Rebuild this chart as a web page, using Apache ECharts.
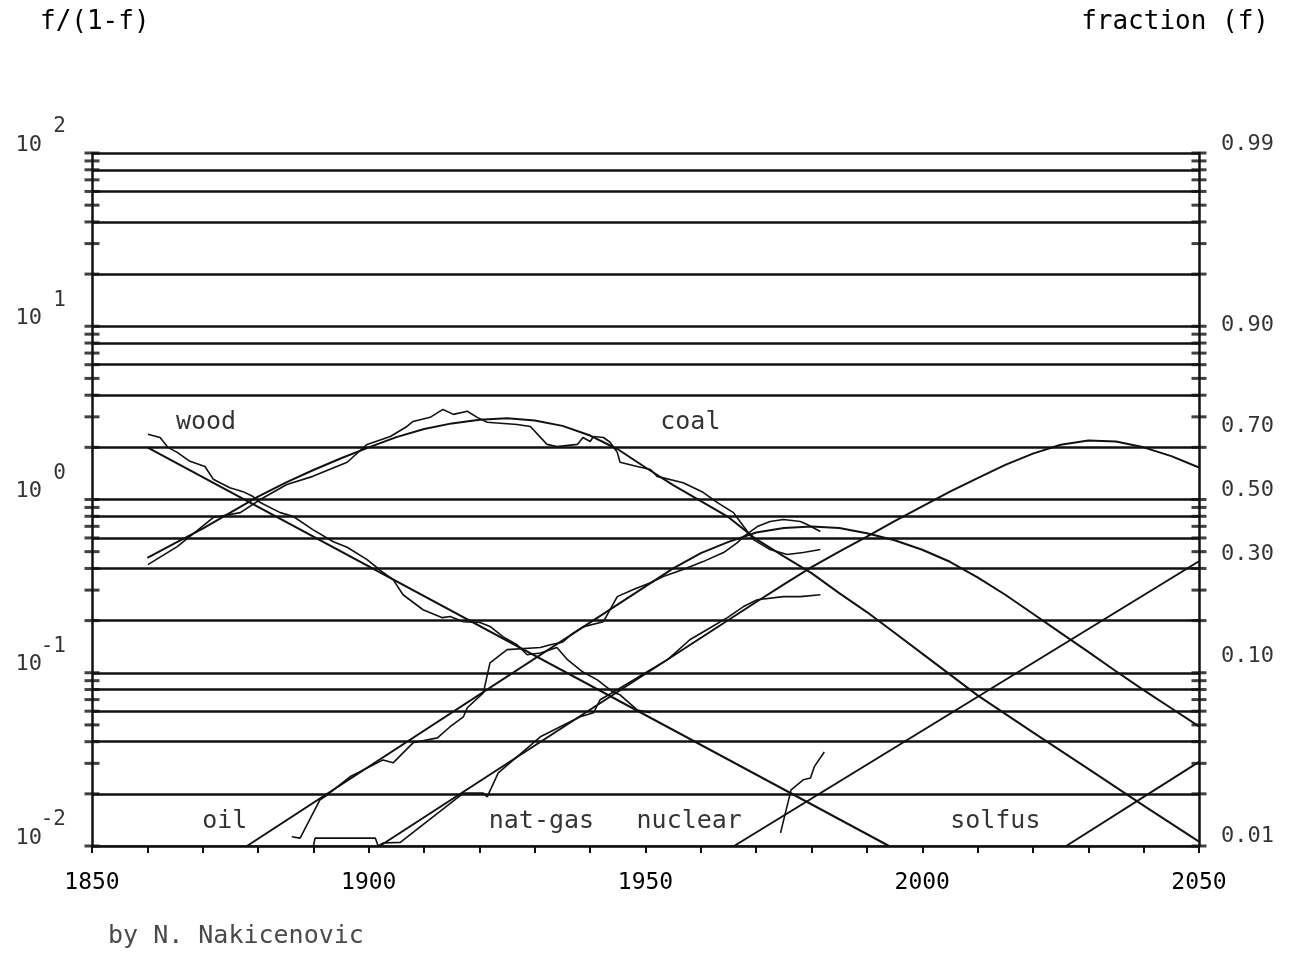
<!DOCTYPE html>
<html>
<head>
<meta charset="utf-8">
<script src="https://cdn.jsdelivr.net/npm/echarts@6/dist/echarts.min.js"></script>
<style>
  html, body { margin: 0; padding: 0; background: #ffffff; }
  #chart { width: 1299px; height: 963px; }
</style>
</head>
<body>
<div id="chart"></div>
<script>
// ---- axes and tick labels ----
const yearLabels = [1850, 1900, 1950, 2000, 2050];
const decadeValues = [0.01, 0.1, 1, 10, 100];
const decadeExponents = ['-2', '-1', '0', '1', '2'];
const tickMantissas = [1, 2, 3, 4, 5, 6, 7, 8, 9];
const gridMantissas = [1, 2, 4, 6, 8];
const fractionTicks = [0.99, 0.90, 0.70, 0.50, 0.30, 0.10, 0.01];
const fractionText = ['0.99', '0.90', '0.70', '0.50', '0.30', '0.10', '0.01'];

// ---- logistic substitution fits, f/(1-f) by year ----
const woodFit = [[1860, 2.0], [1994, 0.01]];
const coalFit = [
  [1860, 0.46], [1865, 0.56], [1870, 0.68], [1875, 0.84], [1880, 1.04], [1885, 1.25],
  [1890, 1.48], [1895, 1.73], [1900, 2.0], [1905, 2.29], [1910, 2.55], [1915, 2.75],
  [1920, 2.89], [1925, 2.94], [1930, 2.86], [1935, 2.66], [1940, 2.34], [1945, 1.95],
  [1950, 1.53], [1955, 1.21], [1960, 0.98], [1965, 0.79], [1970, 0.59], [1975, 0.47],
  [1980, 0.376], [1985, 0.288], [1990, 0.224], [1995, 0.17], [2000, 0.129],
  [2010, 0.074], [2020, 0.0453], [2030, 0.0279], [2040, 0.0171], [2050, 0.0106]
];
const oilFit = [
  [1878, 0.01], [1955, 0.40], [1960, 0.49], [1965, 0.569], [1970, 0.645], [1975, 0.684],
  [1980, 0.698], [1985, 0.684], [1990, 0.638], [1995, 0.582], [2000, 0.513],
  [2005, 0.437], [2010, 0.355], [2015, 0.282], [2020, 0.219], [2025, 0.17],
  [2030, 0.132], [2035, 0.102], [2040, 0.0794], [2045, 0.0624], [2050, 0.049]
];
const gasFit = [
  [1902, 0.01], [1970, 0.256], [1975, 0.324], [1980, 0.407], [1985, 0.50], [1990, 0.61],
  [1995, 0.75], [2000, 0.912], [2005, 1.11], [2010, 1.33], [2015, 1.585], [2020, 1.84],
  [2025, 2.07], [2030, 2.19], [2035, 2.16], [2040, 2.0], [2045, 1.78], [2050, 1.53]
];
const nuclearFit = [[1966, 0.01], [2050, 0.44]];
const solfusFit = [[2026, 0.01], [2050, 0.0306]];

// ---- historical market shares, f/(1-f) by year ----
const woodData = [
  [1860.1, 2.38], [1862.3, 2.28], [1863.7, 2.00], [1865.4, 1.87], [1867.7, 1.66],
  [1870.4, 1.55], [1871.9, 1.31], [1874.9, 1.17], [1877.3, 1.11], [1879.1, 1.04],
  [1880.4, 0.96], [1884.0, 0.84], [1886.3, 0.80], [1889.9, 0.67], [1893.6, 0.57],
  [1896.1, 0.53], [1899.7, 0.45], [1902.1, 0.39], [1904.4, 0.345], [1906.2, 0.282],
  [1909.8, 0.231], [1913.3, 0.208], [1914.7, 0.211], [1917.1, 0.197], [1920.1, 0.195],
  [1921.9, 0.185], [1924.3, 0.161], [1926.8, 0.145], [1928.6, 0.127], [1931.0, 0.130],
  [1934.0, 0.140], [1935.9, 0.119], [1938.7, 0.101], [1941.3, 0.091], [1944.2, 0.077],
  [1945.4, 0.0746], [1948.5, 0.061], [1950.9, 0.0587]
];
const coalData = [
  [1860.1, 0.421], [1865.4, 0.535], [1871.9, 0.787], [1876.8, 0.84], [1880.4, 1.0],
  [1885.2, 1.22], [1889.9, 1.36], [1896.1, 1.64], [1899.7, 2.08], [1903.9, 2.31],
  [1906.9, 2.64], [1908.0, 2.82], [1911.1, 2.98], [1913.4, 3.31], [1915.3, 3.10],
  [1917.8, 3.23], [1919.6, 2.98], [1921.4, 2.79], [1926.8, 2.71], [1929.2, 2.64],
  [1932.2, 2.08], [1934.0, 2.02], [1937.7, 2.08], [1938.7, 2.28], [1940.0, 2.16],
  [1940.6, 2.31], [1942.4, 2.28], [1943.6, 2.14], [1944.9, 1.87], [1945.4, 1.64],
  [1948.5, 1.55], [1950.9, 1.49], [1952.1, 1.36], [1956.8, 1.25], [1960.4, 1.10],
  [1963.0, 0.96], [1965.9, 0.84], [1967.7, 0.70], [1969.5, 0.587], [1972.5, 0.514],
  [1975.6, 0.481], [1978.5, 0.494], [1981.6, 0.514]
];
const oilData = [
  [1886.1, 0.0113], [1887.6, 0.0111], [1891.2, 0.0185], [1892.5, 0.0197], [1896.6, 0.0251],
  [1902.6, 0.0314], [1904.4, 0.0302], [1908.0, 0.0394], [1912.4, 0.0421], [1914.7, 0.0488],
  [1917.1, 0.0557], [1917.8, 0.0628], [1920.7, 0.0766], [1921.9, 0.114], [1925.0, 0.136],
  [1931.0, 0.140], [1932.8, 0.145], [1935.0, 0.150], [1937.0, 0.170], [1938.7, 0.184],
  [1942.4, 0.197], [1944.9, 0.275], [1947.8, 0.302], [1950.9, 0.331], [1953.2, 0.359],
  [1956.8, 0.394], [1960.4, 0.438], [1964.1, 0.494], [1966.6, 0.564], [1967.7, 0.611],
  [1970.2, 0.698], [1972.5, 0.746], [1974.9, 0.766], [1978.0, 0.746], [1979.2, 0.717],
  [1981.6, 0.653]
];
const gasData = [
  [1890.0, 0.01], [1890.3, 0.0111], [1901.2, 0.0111], [1901.7, 0.01], [1902.6, 0.0104],
  [1905.7, 0.0105], [1917.1, 0.0202], [1920.7, 0.0202], [1921.4, 0.0192], [1923.4, 0.0264],
  [1931.0, 0.0427], [1938.2, 0.0557], [1940.6, 0.0587], [1941.8, 0.0698], [1944.9, 0.0798],
  [1950.9, 0.104], [1954.0, 0.119], [1958.0, 0.155], [1961.7, 0.182], [1964.8, 0.208],
  [1967.7, 0.241], [1970.2, 0.264], [1974.9, 0.275], [1978.0, 0.275], [1981.6, 0.282]
];
const nuclearData = [
  [1974.4, 0.0119], [1976.3, 0.0211], [1978.5, 0.0241], [1979.8, 0.0247],
  [1980.5, 0.0287], [1982.3, 0.0349]
];

// ---- curve names and where they are written ----
const curveNames = ['wood', 'coal', 'oil', 'nat-gas', 'nuclear', 'solfus'];
const curveNameAnchors = [
  [1870.6, 2.80], [1958.1, 2.80], [1874.0, 0.0138],
  [1931.2, 0.0138], [1957.9, 0.0138], [2013.2, 0.0138]
];

const FONT = '"DejaVu Sans Mono", "Liberation Mono", monospace';
const INK = '#111111';

const tickValues = [];
decadeValues.slice(0, 4).forEach(d => tickMantissas.forEach(m => tickValues.push(+(d * m).toPrecision(3))));
tickValues.push(100);
const gridValues = [];
decadeValues.slice(0, 4).forEach(d => gridMantissas.forEach(m => gridValues.push(+(d * m).toPrecision(3))));
gridValues.push(100);

function fitLine(data) {
  return {
    type: 'line', data: data, showSymbol: false, symbol: 'none', smooth: false,
    lineStyle: { color: INK, width: 2 }, z: 6, silent: true
  };
}
function dataLine(data) {
  return {
    type: 'line', data: data, showSymbol: false, symbol: 'none', smooth: false,
    lineStyle: { color: INK, width: 1.6 }, z: 7, silent: true
  };
}

const chart = echarts.init(document.getElementById('chart'));
chart.setOption({
  animation: false,
  backgroundColor: '#ffffff',
  grid: { left: 92, right: 100, top: 153, bottom: 117 },
  xAxis: {
    type: 'value', min: 1850, max: 2050, interval: 10,
    axisLine: { show: true, lineStyle: { color: INK, width: 2.5 } },
    axisTick: { show: true, length: 7, lineStyle: { color: INK, width: 2 } },
    axisLabel: {
      margin: 26, fontFamily: FONT, fontSize: 23, color: '#000',
      formatter: v => (yearLabels.indexOf(v) >= 0 ? String(v) : '')
    },
    splitLine: { show: false }
  },
  yAxis: [
    {
      type: 'log', logBase: 10, min: 0.01, max: 100,
      axisLine: { show: true, lineStyle: { color: INK, width: 2.5 } },
      axisTick: { show: false }, axisLabel: { show: false }, splitLine: { show: false }
    },
    {
      type: 'log', logBase: 10, min: 0.01, max: 100, position: 'right',
      axisLine: { show: true, lineStyle: { color: INK, width: 2.5 } },
      axisTick: { show: false }, axisLabel: { show: false }, splitLine: { show: false }
    }
  ],
  graphic: [
    { type: 'text', left: 40, top: 9, style: { text: 'f/(1-f)', fontFamily: FONT, fontSize: 26, fill: '#000' } },
    { type: 'text', right: 30, top: 9, style: { text: 'fraction (f)', fontFamily: FONT, fontSize: 26, fill: '#000' } },
    { type: 'text', left: 108, top: 924, style: { text: 'by N. Nakicenovic', fontFamily: FONT, fontSize: 25, fill: '#4a4a4a' } }
  ],
  series: [
    // horizontal rules of the probability grid
    {
      type: 'lines', coordinateSystem: 'cartesian2d', silent: true, z: 2,
      lineStyle: { color: INK, width: 2.6, opacity: 1 },
      data: gridValues.map(v => ({ coords: [[1850, v], [2050, v]] }))
    },
    // cross ticks on both vertical axes
    {
      type: 'scatter', silent: true, clip: false, z: 3,
      symbol: 'rect', symbolSize: [15, 3],
      itemStyle: { color: INK },
      data: tickValues.map(v => [1850, v]).concat(tickValues.map(v => [2050, v]))
    },
    // left axis labels: base and raised exponent
    {
      type: 'scatter', silent: true, clip: false, symbolSize: 0,
      data: decadeValues.map(v => ({ value: [1850, v], name: '10' })),
      label: { show: true, position: 'left', distance: 50, offset: [0, -8], formatter: '{b}',
               fontFamily: FONT, fontSize: 22, color: '#000' }
    },
    {
      type: 'scatter', silent: true, clip: false, symbolSize: 0,
      data: decadeValues.map((v, i) => ({ value: [1850, v], name: decadeExponents[i] })),
      label: { show: true, position: 'left', distance: 26, offset: [0, -26], formatter: '{b}',
               fontFamily: FONT, fontSize: 21, color: '#000' }
    },
    // right axis labels: market fraction f placed at f/(1-f)
    {
      type: 'scatter', silent: true, clip: false, symbolSize: 0,
      data: fractionTicks.map((f, i) => ({ value: [2050, f / (1 - f)], name: fractionText[i] })),
      label: { show: true, position: 'right', distance: 22, offset: [0, -9], formatter: '{b}',
               fontFamily: FONT, fontSize: 22, color: '#000' }
    },
    fitLine(woodFit), fitLine(coalFit), fitLine(oilFit), fitLine(gasFit),
    fitLine(nuclearFit), fitLine(solfusFit),
    dataLine(woodData), dataLine(coalData), dataLine(oilData), dataLine(gasData), dataLine(nuclearData),
    // curve names
    {
      type: 'scatter', silent: true, clip: false, symbolSize: 0, z: 8,
      data: curveNames.map((n, i) => ({ value: curveNameAnchors[i], name: n })),
      label: { show: true, position: 'inside', formatter: '{b}', fontFamily: FONT, fontSize: 25, color: '#000' }
    }
  ]
});
</script>
</body>
</html>
